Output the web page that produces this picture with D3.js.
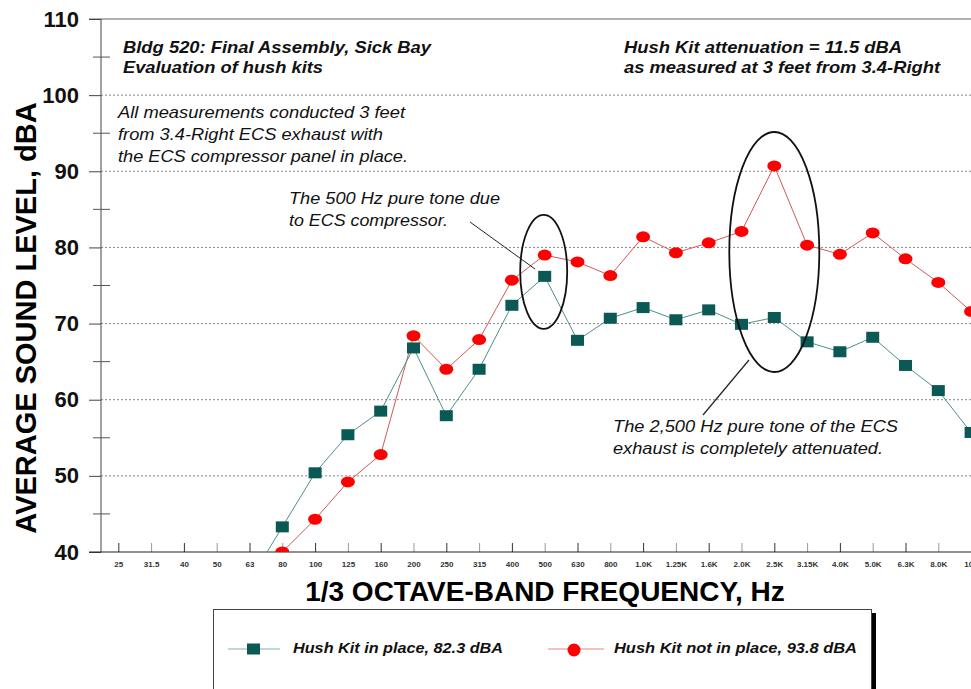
<!DOCTYPE html>
<html>
<head>
<meta charset="utf-8">
<script src="https://cdn.jsdelivr.net/npm/d3@7"></script>
<style>
  html, body { margin: 0; padding: 0; background: #fff; overflow: hidden; }
  svg { display: block; font-family: "Liberation Sans", Arial, sans-serif; }
</style>
</head>
<body>
<svg id="chart" width="971" height="689"></svg>
<script>
// ---- data ----
const categories = ["25","31.5","40","50","63","80","100","125","160","200","250","315","400","500","630","800","1.0K","1.25K","1.6K","2.0K","2.5K","3.15K","4.0K","5.0K","6.3K","8.0K","10K"];
const hushKitIn = [null,null,null,null,36.2,43.3,50.4,55.4,58.5,66.8,57.9,64.0,72.4,76.2,67.8,70.7,72.1,70.5,71.8,69.9,70.8,67.6,66.3,68.2,64.5,61.2,55.7];
const hushKitOut = [null,null,null,null,null,40.0,44.3,49.2,52.8,68.4,64.0,67.9,75.7,79.0,78.1,76.3,81.4,79.3,80.6,82.1,90.7,80.3,79.1,81.9,78.5,75.4,71.6];
const yMajorTicks = [40,50,60,70,80,90,100,110];
const yMinorTicks = [45,55,65,75,85,95,105];
const seriesNames = ["Hush Kit in place, 82.3 dBA", "Hush Kit not in place, 93.8 dBA"];

(function () {
const svg = d3.select("#chart");
const W = 971;
const axisX = 101, plotTop = 19, plotBottom = 552;

const x = d3.scalePoint().domain(categories).range([118.3, 971.1]);
const y = d3.scaleLinear().domain([40, 110]).range([plotBottom, plotTop]);

// clip for plot area
svg.append("defs").append("clipPath").attr("id", "plotClip")
  .append("rect").attr("x", axisX).attr("y", plotTop).attr("width", 1000).attr("height", plotBottom - plotTop);

// gridlines
svg.append("g").selectAll("line").data(yMajorTicks.filter(v => v > 40 && v < 110)).join("line")
  .attr("x1", axisX).attr("x2", W).attr("y1", d => y(d)).attr("y2", d => y(d))
  .attr("stroke", "#8a8a8a").attr("stroke-width", 1).attr("stroke-dasharray", "2,2");
// top border line at 110
svg.append("line").attr("x1", 89).attr("x2", W).attr("y1", y(110)).attr("y2", y(110))
  .attr("stroke", "#999").attr("stroke-width", 1.5);

// y axis
const yAxis = svg.append("g").attr("transform", `translate(${axisX},0)`)
  .call(d3.axisLeft(y).tickValues(yMajorTicks).tickSize(12).tickPadding(10).tickFormat(d3.format("d")));
yAxis.select(".domain").remove();
yAxis.selectAll(".tick line").attr("stroke", "#444");
yAxis.selectAll(".tick text").attr("font-size", 22).attr("font-weight", "bold").attr("fill", "#111")
  .attr("font-family", "'Liberation Sans', Arial, sans-serif");
svg.append("line").attr("x1", axisX).attr("x2", axisX).attr("y1", plotTop).attr("y2", plotBottom)
  .attr("stroke", "#444").attr("stroke-width", 1);
svg.append("g").selectAll("line").data(yMinorTicks).join("line")
  .attr("x1", 93).attr("x2", 110).attr("y1", d => y(d)).attr("y2", d => y(d))
  .attr("stroke", "#555").attr("stroke-width", 1);

// x axis
const xAxis = svg.append("g").attr("transform", `translate(0,${plotBottom})`)
  .call(d3.axisBottom(x).tickSizeInner(-9).tickSizeOuter(0).tickPadding(9));
xAxis.select(".domain").remove();
xAxis.selectAll(".tick line").attr("stroke", (d, i) => i % 2 ? "#999" : "#333");
xAxis.selectAll(".tick text").attr("font-size", 8).attr("font-weight", "bold").attr("fill", "#333")
  .attr("font-family", "'Liberation Sans', Arial, sans-serif");
svg.append("line").attr("x1", 89).attr("x2", W).attr("y1", plotBottom).attr("y2", plotBottom)
  .attr("stroke", "#222").attr("stroke-width", 1.2);

// axis titles
svg.append("text").attr("x", 545).attr("y", 601).attr("text-anchor", "middle")
  .attr("font-size", 28).attr("font-weight", "bold").attr("fill", "#000")
  .text("1/3 OCTAVE-BAND FREQUENCY, Hz");
svg.append("text").attr("transform", "translate(36,318) rotate(-90)").attr("text-anchor", "middle")
  .attr("font-size", 29).attr("font-weight", "bold").attr("fill", "#000")
  .text("AVERAGE SOUND LEVEL, dBA");

// series
const plot = svg.append("g").attr("clip-path", "url(#plotClip)");
const idx = d3.range(categories.length);
const lineGen = vals => d3.line().defined(i => vals[i] != null)
  .x(i => x(categories[i])).y(i => y(vals[i]));

plot.append("path").datum(idx).attr("d", lineGen(hushKitOut))
  .attr("fill", "none").attr("stroke", "#d05a5a").attr("stroke-width", 1);
plot.append("path").datum(idx).attr("d", lineGen(hushKitIn))
  .attr("fill", "none").attr("stroke", "#4e8f8b").attr("stroke-width", 1);

plot.append("g").selectAll("ellipse").data(idx.filter(i => hushKitOut[i] != null)).join("ellipse")
  .attr("cx", i => x(categories[i])).attr("cy", i => y(hushKitOut[i]))
  .attr("rx", 7).attr("ry", 5.5).attr("fill", "#ff0000");
plot.append("g").selectAll("rect").data(idx.filter(i => hushKitIn[i] != null)).join("rect")
  .attr("x", i => x(categories[i]) - 6.5).attr("y", i => y(hushKitIn[i]) - 5.5)
  .attr("width", 13).attr("height", 11).attr("fill", "#0b5955");

// annotation ellipses & leaders
svg.append("ellipse").attr("cx", x("500") - 1).attr("cy", y(76.8)).attr("rx", 23.5).attr("ry", 57)
  .attr("fill", "none").attr("stroke", "#111").attr("stroke-width", 1.8);
svg.append("ellipse").attr("cx", x("2.5K")).attr("cy", y(79.4)).attr("rx", 45).attr("ry", 120)
  .attr("fill", "none").attr("stroke", "#111").attr("stroke-width", 1.8);
svg.append("line").attr("x1", 470).attr("y1", 222).attr("x2", 535).attr("y2", 269)
  .attr("stroke", "#222").attr("stroke-width", 1);
svg.append("line").attr("x1", 749).attr("y1", 360).attr("x2", 703).attr("y2", 415)
  .attr("stroke", "#222").attr("stroke-width", 1.2);

// annotation texts
function txt(xp, yp, s, opts) {
  const t = svg.append("text").attr("x", xp).attr("y", yp)
    .attr("font-size", opts.size).attr("font-style", "italic")
    .attr("font-weight", opts.bold ? "bold" : "normal").attr("fill", "#111").text(s);
  if (opts.len) t.attr("textLength", opts.len).attr("lengthAdjust", "spacingAndGlyphs");
  return t;
}
txt(123, 53, "Bldg 520: Final Assembly, Sick Bay", {size: 16.5, bold: true, len: 308});
txt(123, 73, "Evaluation of hush kits", {size: 16.5, bold: true, len: 200});
txt(624, 53, "Hush Kit attenuation = 11.5 dBA", {size: 16.5, bold: true, len: 278});
txt(624, 73, "as measured at 3 feet from 3.4-Right", {size: 16.5, bold: true, len: 316});
txt(118, 118, "All measurements conducted 3 feet", {size: 17, len: 287});
txt(118, 140, "from 3.4-Right ECS exhaust with", {size: 17, len: 265});
txt(118, 162, "the ECS compressor panel in place.", {size: 17, len: 290});
txt(289, 204, "The 500 Hz pure tone due", {size: 17, len: 211});
txt(289, 226, "to ECS compressor.", {size: 17, len: 159});
txt(613, 432, "The 2,500 Hz pure tone of the ECS", {size: 17, len: 285});
txt(613, 454, "exhaust is completely attenuated.", {size: 17, len: 270});

// legend
const lg = svg.append("g");
lg.append("rect").attr("x", 872).attr("y", 613).attr("width", 4).attr("height", 80).attr("fill", "#000");
lg.append("rect").attr("x", 213.5).attr("y", 609.5).attr("width", 658).attr("height", 90)
  .attr("fill", "#fff").attr("stroke", "#444").attr("stroke-width", 1);
lg.append("line").attr("x1", 228).attr("x2", 280).attr("y1", 649).attr("y2", 649).attr("stroke", "#7fb3b0");
lg.append("rect").attr("x", 247).attr("y", 643.5).attr("width", 13).attr("height", 11).attr("fill", "#0b5955");
lg.append("line").attr("x1", 548).attr("x2", 604).attr("y1", 649).attr("y2", 649).attr("stroke", "#e88080");
lg.append("ellipse").attr("cx", 574).attr("cy", 650).attr("rx", 6.5).attr("ry", 6.5).attr("fill", "#ff0000");
lg.append("text").attr("x", 293).attr("y", 653).attr("font-size", 15).attr("font-style", "italic")
  .attr("font-weight", "bold").attr("fill", "#111").attr("textLength", 210).attr("lengthAdjust", "spacingAndGlyphs")
  .text(seriesNames[0]);
lg.append("text").attr("x", 614).attr("y", 653).attr("font-size", 15).attr("font-style", "italic")
  .attr("font-weight", "bold").attr("fill", "#111").attr("textLength", 243).attr("lengthAdjust", "spacingAndGlyphs")
  .text(seriesNames[1]);
})();
</script>
</body>
</html>
